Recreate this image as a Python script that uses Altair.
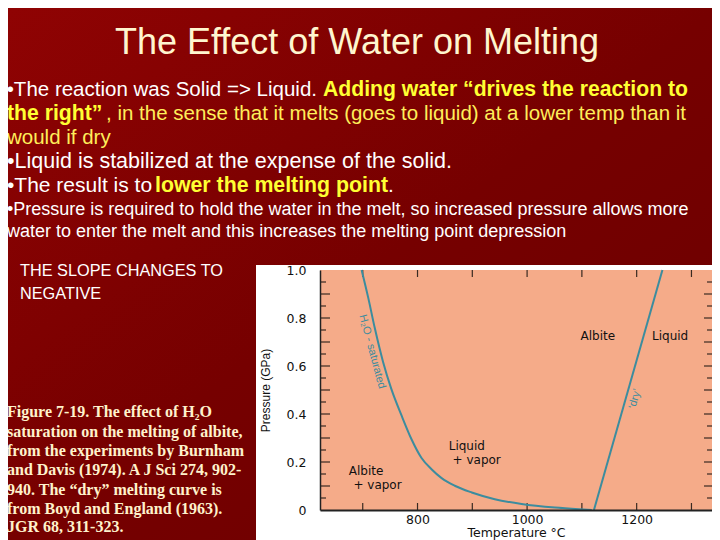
import altair as alt
import pandas as pd

# ---------------- data ----------------
h2o_temp = [698, 710, 722, 737, 752, 771, 789, 807, 826, 844, 868, 899, 941, 990, 1051, 1095, 1118]
h2o_press = [1.0, 0.885, 0.758, 0.618, 0.506, 0.393, 0.295, 0.218, 0.169, 0.133, 0.101, 0.073, 0.045, 0.025, 0.010, 0.003, 0.0]
dry_temp = [1122, 1247]
dry_press = [0.0, 1.0]

field_names = ["Albite", "Liquid", "Liquid", "+ vapor", "Albite", "+ vapor"]
field_temp = [1129, 1261, 890, 908, 706, 727]
field_press = [0.727, 0.727, 0.265, 0.209, 0.162, 0.105]

curve_names = ["H\u2082O - saturated", "\u2018dry\u2019"]
curve_label_temp = [717, 1197]
curve_label_press = [0.66, 0.463]

temp_ticks = [700, 800, 900, 1000, 1100, 1200, 1300]
temp_labels = [800, 1000, 1200]
press_major_ticks = [0.1, 0.2, 0.3, 0.4, 0.5, 0.6, 0.7, 0.8, 0.9]
press_minor_ticks = [0.05, 0.15, 0.25, 0.35, 0.45, 0.55, 0.65, 0.75, 0.85, 0.95]
press_labels = [0, 0.2, 0.4, 0.6, 0.8, 1.0]

title_text = "The Effect of Water on Melting"
bullet_1a = "\u2022The reaction was Solid => Liquid."
bullet_1b = "Adding water \u201cdrives the reaction to"
bullet_2a = "the right\u201d"
bullet_2b = ", in the sense that it melts (goes to liquid) at a lower temp than it"
bullet_3 = "would if dry"
bullet_4 = "\u2022Liquid is stabilized at the expense of the solid."
bullet_5a = "\u2022The result is to"
bullet_5b = "lower the melting point"
bullet_5c = "."
bullet_6 = "\u2022Pressure is required to hold the water in the melt, so increased pressure allows more"
bullet_7 = "water to enter the melt and this increases the melting point depression"
side_note = ["THE SLOPE CHANGES TO", "NEGATIVE"]
caption = [
    "Figure 7-19. The effect of H\u2082O",
    "saturation on the melting of albite,",
    "from the experiments by Burnham",
    "and Davis (1974). A J Sci 274, 902-",
    "940. The \u201cdry\u201d melting curve is",
    "from Boyd and England (1963).",
    "JGR 68, 311-323.",
]

# ---------------- layout ----------------
OX, OY = 320, 270          # plot origin in reference page pixels
PW, PH = 392, 240          # plot area size
TOTAL_W, TOTAL_H = 704, 532

one = pd.DataFrame({"k": [0]})
h2o_df = pd.DataFrame({"T": h2o_temp, "P": h2o_press})
dry_df = pd.DataFrame({"T": dry_temp, "P": dry_press})
field_df = pd.DataFrame({"T": field_temp, "P": field_press, "name": field_names})
maj_df = pd.DataFrame({"P": press_major_ticks})
min_df = pd.DataFrame({"P": press_minor_ticks})
tt_df = pd.DataFrame({"T": temp_ticks})

xs = alt.Scale(domain=[622, 1337.5], nice=False, zero=False)
ys = alt.Scale(domain=[0, 1.0], nice=False, zero=False)

xaxis = alt.Axis(values=temp_labels, format="d", ticks=False, grid=False, domain=True,
                 domainColor="#222222", domainWidth=2, labelFont="DejaVu Sans",
                 labelFontSize=12.5, labelColor="#111111", labelPadding=3,
                 title="Temperature \u00b0C", titleFont="DejaVu Sans", titleFontSize=12.5,
                 titleFontWeight="normal", titleColor="#111111", titlePadding=1, zindex=1)
yaxis = alt.Axis(values=press_labels, ticks=False, grid=False, domain=True,
                 domainColor="#222222", domainWidth=1.5, labelFont="DejaVu Sans",
                 labelFontSize=12.5, labelColor="#111111", labelPadding=14,
                 labelExpr="datum.value == 0 ? '0' : format(datum.value, '.1f')",
                 title="Pressure (GPa)", titleFont="Liberation Sans", titleFontSize=12,
                 titleFontWeight="normal", titleColor="#111111", titlePadding=14, zindex=1)

X = lambda: alt.X("T:Q", scale=xs, axis=xaxis)
Y = lambda: alt.Y("P:Q", scale=ys, axis=yaxis)


def box(x1, x2, y1, y2, fill):
    return alt.Chart(one).mark_rect(fill=fill).encode(
        x=alt.value(x1 - OX), x2=alt.value(x2 - OX),
        y=alt.value(y1 - OY), y2=alt.value(y2 - OY))


def txt(s, x, y, size, color, font="Liberation Sans", weight="normal", align="left"):
    return alt.Chart(one).mark_text(
        text=s, align=align, baseline="middle", font=font, fontSize=size,
        fontWeight=weight, color=color).encode(x=alt.value(x - OX), y=alt.value(y - OY))


grad = alt.Gradient(gradient="linear", x1=0, y1=0, x2=1, y2=1,
                    stops=[alt.GradientStop(color="#900303", offset=0),
                           alt.GradientStop(color="#760000", offset=0.5),
                           alt.GradientStop(color="#6a0000", offset=1)])

bg = box(0, 730, 0, 550, grad)
white = box(256, 730, 265, 550, "#ffffff")
salmon = alt.Chart(one).mark_rect(fill="#f5ab89").encode(
    x=alt.value(0), x2=alt.value(PW), y=alt.value(0), y2=alt.value(PH))

tick_col = "#3a2a22"
left_maj = alt.Chart(maj_df).mark_rule(color=tick_col, strokeWidth=1.2).encode(
    y=Y(), x=alt.value(0), x2=alt.value(10))
left_min = alt.Chart(min_df).mark_rule(color=tick_col, strokeWidth=1.2).encode(
    y=Y(), x=alt.value(0), x2=alt.value(6))
right_maj = alt.Chart(maj_df).mark_rule(color=tick_col, strokeWidth=1.2).encode(
    y=Y(), x=alt.value(PW - 8), x2=alt.value(PW))
right_min = alt.Chart(min_df).mark_rule(color=tick_col, strokeWidth=1.2).encode(
    y=Y(), x=alt.value(PW - 5), x2=alt.value(PW))
top_t = alt.Chart(tt_df).mark_rule(color=tick_col, strokeWidth=1.2).encode(
    x=X(), y=alt.value(0), y2=alt.value(7))
bot_t = alt.Chart(tt_df).mark_rule(color=tick_col, strokeWidth=1.2).encode(
    x=X(), y=alt.value(PH - 7), y2=alt.value(PH))

curve_col = "#3c8c9e"
h2o_line = alt.Chart(h2o_df).mark_line(color=curve_col, strokeWidth=2, interpolate="monotone").encode(
    x=X(), y=Y())
dry_line = alt.Chart(dry_df).mark_line(color=curve_col, strokeWidth=2).encode(x=X(), y=Y())

fields = alt.Chart(field_df).mark_text(font="DejaVu Sans", fontSize=12, color="#111111",
                                       align="center", baseline="middle").encode(
    x=X(), y=Y(), text="name:N")

h2o_lab = alt.Chart(pd.DataFrame({"T": [curve_label_temp[0]], "P": [curve_label_press[0]],
                                  "name": [curve_names[0]]})).mark_text(
    font="Liberation Sans", fontSize=11, color=curve_col, angle=75,
    align="center", baseline="middle").encode(x=X(), y=Y(), text="name:N")
dry_lab = alt.Chart(pd.DataFrame({"T": [curve_label_temp[1]], "P": [curve_label_press[1]],
                                  "name": [curve_names[1]]})).mark_text(
    font="Liberation Sans", fontSize=11, color=curve_col, angle=286,
    align="center", baseline="middle").encode(x=X(), y=Y(), text="name:N")

WHITE = "#ffffff"
YEL = "#ffff33"
YEL2 = "#ffee5a"
CREAM = "#fff6cf"

texts = [
    txt(title_text, 357, 43, 36, CREAM, align="center"),
    txt(bullet_1a, 317, 90, 20.5, WHITE, align="right"),
    txt(bullet_1b, 323, 90, 21.2, YEL, weight="bold"),
    txt(bullet_2a, 7, 114, 21.2, YEL, weight="bold"),
    txt(bullet_2b, 106, 114, 20.5, YEL2),
    txt(bullet_3, 7, 138, 20.5, YEL2),
    txt(bullet_4, 7, 162, 21.5, WHITE),
    txt(bullet_5a, 7, 186, 21, WHITE),
    txt(bullet_5b, 155, 186, 21.3, YEL, weight="bold"),
    txt(bullet_5c, 388, 186, 21, WHITE),
    txt(bullet_6, 7, 210, 18, WHITE),
    txt(bullet_7, 7, 232, 18, WHITE),
    txt(side_note[0], 20, 271, 16.3, WHITE),
    txt(side_note[1], 20, 294, 16.3, WHITE),
]
cap_y = [412, 432, 451, 470, 490, 509, 527]
for s, yy in zip(caption, cap_y):
    texts.append(txt(s, 7, yy, 16, "#fff2cc", font="Liberation Serif", weight="bold"))

chart = alt.layer(
    bg, white, salmon,
    left_maj, left_min, right_maj, right_min, top_t, bot_t,
    h2o_line, dry_line, fields, h2o_lab, dry_lab,
    *texts,
).properties(
    width=PW, height=PH,
    autosize=alt.AutoSizeParams(type="none"),
    padding={"left": OX - 8, "top": OY - 8, "right": TOTAL_W - (OX - 8) - PW,
             "bottom": TOTAL_H - (OY - 8) - PH},
    background="#760000",
).configure_view(stroke="transparent")

chart.save("out.html", embed_options={"renderer": "svg", "actions": False})
